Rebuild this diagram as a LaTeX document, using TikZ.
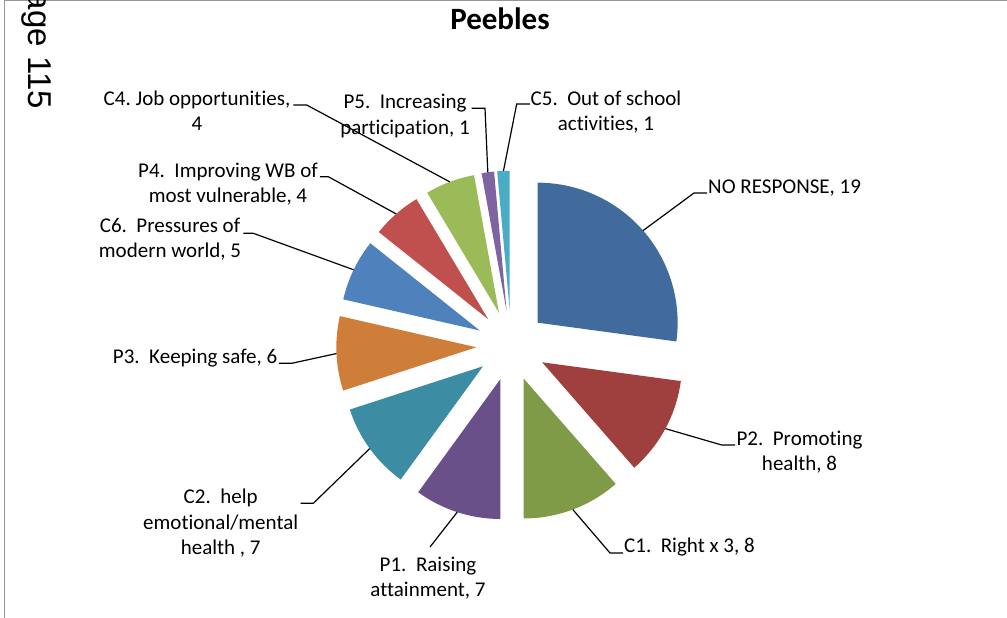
\documentclass[tikz,border=0pt]{standalone}
\usepackage{fontspec}
\setmainfont{Carlito}[Ligatures={NoCommon}]
\newfontfamily\arialf{Liberation Sans}
\usetikzlibrary{calc}
\definecolor{cNR}{RGB}{65,106,157}
\definecolor{cPtwo}{RGB}{160,64,62}
\definecolor{cCone}{RGB}{128,155,72}
\definecolor{cPone}{RGB}{105,80,136}
\definecolor{cCtwo}{RGB}{60,140,163}
\definecolor{cPthree}{RGB}{206,126,56}
\definecolor{cCsix}{RGB}{79,129,189}
\definecolor{cPfour}{RGB}{192,80,77}
\definecolor{cCfour}{RGB}{155,187,89}
\definecolor{cPfive}{RGB}{128,100,162}
\definecolor{cCfive}{RGB}{75,172,198}
\definecolor{frameg}{RGB}{150,150,150}
\newcommand\lblfont{\fontsize{21}{25.6}\selectfont\frenchspacing}
\begin{document}
\begin{tikzpicture}[x=1pt,y=1pt,
  lab/.style={inner sep=0pt,align=center,font=\lblfont},
  leader/.style={draw=black,line width=1.2pt},
  frame/.style={draw=frameg,line width=1.5pt}]
\path[use as bounding box] (0,0) rectangle (1007,-618);
\clip (0,0) rectangle (1007,-618);
% page frame
\draw[frame] (4.5,-618) -- (4.5,-0.75) -- (1007,-0.75);
% side page number
\node[rotate=-90,anchor=base east,inner sep=0pt,font=\arialf\fontsize{33}{38}\selectfont] (pg) at (28,-109) {Page 115};
% title
\node[anchor=base,inner sep=0pt,font=\fontsize{31}{36}\selectfont\bfseries] (title) at (500,-30) {Peebles};
% pie
\coordinate (C) at (511.3,-345.7);
\foreach \nm/\s/\e/\col in {nr/90/-7.7143/cNR, ptwo/-7.7143/-48.8571/cPtwo, cone/-48.8571/-90/cCone,
  pone/-90/-126/cPone, ctwo/-126/-162/cCtwo, pthree/-162/-192.8571/cPthree,
  csix/-192.8571/-218.5714/cCsix, pfour/-218.5714/-239.1429/cPfour,
  cfour/-239.1429/-259.7143/cCfour, pfive/-259.7143/-264.8571/cPfive, cfive/-264.8571/-270/cCfive}{
  \pgfmathsetmacro\m{(\s+\e)/2}
  \fill[\col] ($(C)+(\m:35)$) -- ++(\s:140) arc[start angle=\s,end angle=\e,radius=140] -- cycle;
  \coordinate (\nm) at ($(C)+(\m:175)$);
}
% labels
\node[lab,anchor=base west] (nrL) at (708,-193) {NO RESPONSE, 19};
\node[lab,anchor=north] (ptwoL) at (799.5,-427.1) {\strut P2.~~Promoting\\\strut health, 8};
\node[lab,anchor=base west] (coneL) at (624,-552.5) {C1.~~Right x 3, 8};
\node[lab,anchor=north] (poneL) at (428,-553.1) {\strut P1.~~Raising\\\strut attainment, 7};
\node[lab,anchor=north] (ctwoL) at (220.7,-485.6) {\strut C2.~~help\\\strut emotional/mental\\\strut health , 7};
\node[lab,anchor=base east] (pthreeL) at (277.5,-363) {P3.~~Keeping safe, 6};
\node[lab,anchor=north] (csixL) at (170,-213.9) {\strut C6.~~Pressures of\\\strut modern world, 5};
\node[lab,anchor=north] (pfourL) at (228,-158.9) {\strut P4.~~Improving WB of\\\strut most vulnerable, 4};
\node[lab,anchor=north] (cfourL) at (197,-87.1) {\strut C4. Job opportunities,\\\strut 4};
\node[lab,anchor=north] (pfiveL) at (405,-90.6) {\strut P5.~~Increasing\\\strut participation, 1};
\node[lab,anchor=north] (cfiveL) at (606,-87.1) {\strut C5.~~Out of school\\\strut activities, 1};
% leader bends and ends
\coordinate (nrB) at (694,-193);   \coordinate (nrE) at (707,-193);
\coordinate (ptwoB) at (721.7,-445); \coordinate (ptwoE) at (735,-445);
\coordinate (coneB) at (610,-553); \coordinate (coneE) at (623,-553);
\coordinate (poneE) at (430,-547);
\coordinate (ctwoB) at (313.3,-503.3); \coordinate (ctwoE) at (300.7,-503.3);
\coordinate (pthreeB) at (291.7,-363.3); \coordinate (pthreeE) at (279,-363.3);
\coordinate (csixB) at (253.3,-233.3); \coordinate (csixE) at (243.3,-233.3);
\coordinate (pfourB) at (328.3,-176.7); \coordinate (pfourE) at (320,-176.7);
\coordinate (cfourB) at (306.7,-105); \coordinate (cfourE) at (293.3,-105);
\coordinate (pfiveB) at (485,-108.3); \coordinate (pfiveE) at (471.7,-108.3);
\coordinate (cfiveB) at (516.7,-104); \coordinate (cfiveE) at (530,-104);
% leaders
\foreach \nm in {nr,ptwo,cone,ctwo,pthree,csix,pfour,cfour,pfive,cfive}{
  \draw[leader] (\nm) -- (\nm B) -- (\nm E);
}
\draw[leader] (pone) -- (poneE);
\end{tikzpicture}
\end{document}
